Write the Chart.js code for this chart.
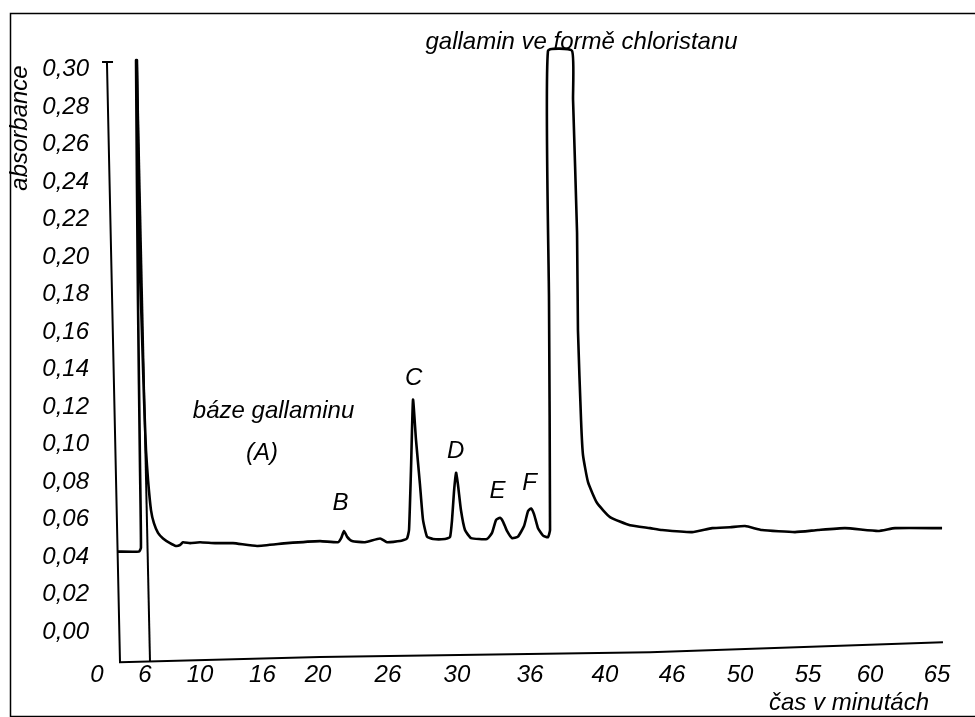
<!DOCTYPE html>
<html>
<head>
<meta charset="utf-8">
<title>Gallamin - chromatogram</title>
<script src="https://cdn.jsdelivr.net/npm/chart.js@4.4.1/dist/chart.umd.min.js"></script>
<style>
    html, body { margin: 0; padding: 0; background: #fff; }
    #wrap { position: relative; width: 975px; height: 717px; }
</style>
</head>
<body>
<div id="wrap"><canvas id="chromChart"></canvas></div>
<script>
// === Data (x = position along the chart paper, scaled so that label "0" = 0 and label "65" = 65) ===
var mainTime = [1.55, 3.25, 3.40, 3.33, 3.17, 3.02, 3.09, 3.25, 3.40, 3.64, 3.79, 3.95, 4.18, 4.41, 4.72, 5.11,
    5.65, 6.11, 6.42, 6.65, 7.20, 7.97, 9.13, 10.52, 12.38, 14.70, 17.25, 18.65, 18.88, 19.11, 19.34, 19.73,
    20.74, 21.90, 22.44, 23.44, 23.98, 24.14, 24.29, 24.45, 24.68, 24.99, 25.22, 25.53, 26.00, 26.92, 27.31,
    27.47, 27.62, 27.78, 27.93, 28.16, 28.47, 28.94, 30.17, 30.56, 30.87, 31.18, 31.41, 31.72, 32.11, 32.57,
    33.04, 33.35, 33.58, 33.81, 34.12, 34.51, 34.89, 35.05, 34.97, 34.89, 36.75, 36.83, 37.14, 37.21, 37.45,
    37.60, 37.99, 38.68, 39.69, 41.24, 42.79, 43.72, 46.04, 47.59, 48.98, 50.14, 51.45, 54.00, 55.78, 57.87,
    60.43, 61.74, 65.38];
var mainAbs = [0.043, 0.043, 0.045, 0.087, 0.177, 0.305, 0.305, 0.214, 0.177, 0.124, 0.097, 0.081, 0.065, 0.058,
    0.053, 0.050, 0.0475, 0.046, 0.0465, 0.048, 0.0475, 0.048, 0.0475, 0.0475, 0.046, 0.0475, 0.0486, 0.048,
    0.050, 0.054, 0.051, 0.0486, 0.048, 0.050, 0.048, 0.0486, 0.050, 0.0545, 0.086, 0.124, 0.1025, 0.0785,
    0.060, 0.051, 0.0497, 0.0497, 0.0507, 0.060, 0.075, 0.085, 0.0785, 0.065, 0.0545, 0.0502, 0.0497, 0.053,
    0.0598, 0.061, 0.059, 0.054, 0.0502, 0.051, 0.0566, 0.0646, 0.066, 0.063, 0.0555, 0.0515, 0.0507, 0.0545,
    0.177, 0.310, 0.310, 0.284, 0.213, 0.161, 0.113, 0.0945, 0.080, 0.069, 0.0614, 0.057, 0.0555, 0.0545,
    0.0534, 0.0555, 0.056, 0.0566, 0.0545, 0.0534, 0.0545, 0.0555, 0.054, 0.0555, 0.0555];

// zero-line pen trace (start mark, drop, then the slanted bottom line)
var zeroTime = [0.39, 1.24, 0.77, 1.78, 17.25, 42.79, 65.45];
var zeroAbs = [0.304, 0.304, 0.304, -0.016, -0.0132, -0.0106, -0.0053];

// injection mark
var markTime = [3.09, 4.10];
var markAbs = [0.305, -0.0153];

// axis ticks
var xTickPos = [0, 3.71, 7.97, 12.80, 17.10, 22.51, 27.85, 33.50, 39.30, 44.49, 49.75, 55.01, 59.81, 64.99];
var xTickLabels = ['0', '6', '10', '16', '20', '26', '30', '36', '40', '46', '50', '55', '60', '65'];
var yTickValues = [0, 0.02, 0.04, 0.06, 0.08, 0.10, 0.12, 0.14, 0.16, 0.18, 0.20, 0.22, 0.24, 0.26, 0.28, 0.30];

// peak labels
var noteText = ['gallamin ve formě chloristanu', 'báze gallaminu', '(A)', 'B', 'C', 'D', 'E', 'F'];
var noteX = [37.49, 13.66, 12.77, 18.84, 24.49, 27.74, 30.99, 33.46];
var noteY = [0.311, 0.114, 0.092, 0.065, 0.132, 0.093, 0.0715, 0.0758];

var FONT = { family: "'Liberation Sans', Arial, sans-serif", size: 24, style: 'italic' };

function toPoints(xs, ys) {
    return xs.map(function(x, i) { return { x: x, y: ys[i] }; });
}

// === Frame, axis titles and peak labels ===
var notesPlugin = {
    id: 'notes',
    afterDraw: function(chart) {
        var ctx = chart.ctx;
        var xs = chart.scales.x, ys = chart.scales.y;
        ctx.save();
        ctx.strokeStyle = '#000';
        ctx.lineWidth = 1.5;
        ctx.strokeRect(10.5, 13.5, 975, 703);

        ctx.fillStyle = '#000';
        ctx.font = 'italic 24px ' + FONT.family;
        ctx.textAlign = 'center';
        ctx.textBaseline = 'alphabetic';
        noteText.forEach(function(t, i) {
            ctx.fillText(t, xs.getPixelForValue(noteX[i]), ys.getPixelForValue(noteY[i]));
        });

        // x title, bottom right
        ctx.fillText('čas v minutách', 849, 710);

        // y title, rotated
        ctx.translate(20, 128);
        ctx.rotate(-Math.PI / 2);
        ctx.textBaseline = 'middle';
        ctx.fillText('absorbance', 0, 0);
        ctx.restore();
    }
};

var ctxChrom = document.getElementById('chromChart').getContext('2d');
new Chart(ctxChrom, {
    type: 'line',
    data: {
        datasets: [
            {
                label: 'chromatogram',
                data: toPoints(mainTime, mainAbs),
                borderColor: '#000',
                borderWidth: 2.6,
                pointRadius: 0,
                tension: 0.15,
                clip: false
            },
            {
                label: 'nulová linie',
                data: toPoints(zeroTime, zeroAbs),
                borderColor: '#000',
                borderWidth: 2,
                pointRadius: 0,
                tension: 0,
                clip: false
            },
            {
                label: 'nástřik',
                data: toPoints(markTime, markAbs),
                borderColor: '#000',
                borderWidth: 2,
                pointRadius: 0,
                tension: 0,
                clip: false
            }
        ]
    },
    options: {
        responsive: true,
        maintainAspectRatio: false,
        animation: false,
        devicePixelRatio: 1,
        layout: { padding: { top: 32, right: 12, bottom: 0, left: 0 } },
        plugins: {
            legend: { display: false },
            tooltip: { enabled: false }
        },
        scales: {
            x: {
                type: 'linear',
                min: 0,
                max: 67,
                grid: { display: false, drawTicks: false },
                border: { display: false },
                afterBuildTicks: function(scale) {
                    scale.ticks = xTickPos.map(function(v) { return { value: v }; });
                },
                afterFit: function(scale) { scale.height = 66; },
                ticks: {
                    autoSkip: false,
                    maxRotation: 0,
                    padding: 10,
                    color: '#000',
                    font: FONT,
                    callback: function(value, index) { return xTickLabels[index]; }
                }
            },
            y: {
                min: -0.01,
                max: 0.32,
                grid: { display: false, drawTicks: false },
                border: { display: false },
                afterBuildTicks: function(scale) {
                    scale.ticks = yTickValues.map(function(v) { return { value: v }; });
                },
                afterFit: function(scale) { scale.width = 97; },
                ticks: {
                    padding: 8,
                    color: '#000',
                    font: FONT,
                    callback: function(value) { return value.toFixed(2).replace('.', ','); }
                }
            }
        }
    },
    plugins: [notesPlugin]
});
</script>
</body>
</html>
